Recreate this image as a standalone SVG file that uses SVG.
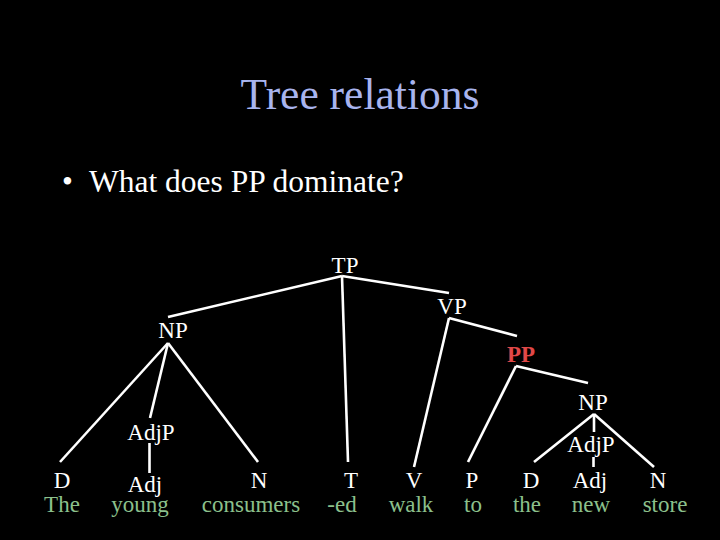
<svg xmlns="http://www.w3.org/2000/svg" width="720" height="540" viewBox="0 0 720 540">
<style>
text{font-family:"Liberation Serif","Times New Roman",serif;}
.lab{fill:#ffffff;font-size:23px;text-anchor:middle;}
.word{fill:#8cc08c;font-size:23px;text-anchor:middle;}
.pp{fill:#e04848;font-size:23px;font-weight:bold;text-anchor:middle;}
#edges line{stroke:#ffffff;stroke-width:2.6;stroke-linecap:butt;}
</style>
<rect width="720" height="540" fill="#000000"/>
<text x="360" y="109" font-size="43.5" fill="#a8b4ee" text-anchor="middle">Tree relations</text>
<text x="62" y="192" font-size="31" fill="#ffffff">•</text>
<text x="89" y="192" font-size="31.5" fill="#ffffff">What does PP dominate?</text>
<g id="edges">
<line x1="342" y1="276" x2="168" y2="317"/>
<line x1="342" y1="276" x2="449" y2="293"/>
<line x1="342" y1="276" x2="348" y2="462"/>
<line x1="168" y1="343" x2="60" y2="462"/>
<line x1="168" y1="343" x2="150" y2="418"/>
<line x1="168" y1="343" x2="258" y2="462"/>
<line x1="149.5" y1="443" x2="149.5" y2="473"/>
<line x1="449" y1="318" x2="517" y2="336"/>
<line x1="449" y1="318" x2="414" y2="467"/>
<line x1="516" y1="366" x2="588" y2="383"/>
<line x1="516" y1="366" x2="468" y2="462"/>
<line x1="594" y1="414" x2="534" y2="462"/>
<line x1="594" y1="414" x2="654" y2="467"/>
<line x1="594" y1="414" x2="594" y2="432"/>
<line x1="593.5" y1="457" x2="593.5" y2="467"/>
</g>
<g id="TP"><text class="lab" x="345" y="273">TP</text></g>
<g id="NP1"><text class="lab" x="173" y="338">NP</text></g>
<g id="VP"><text class="lab" x="452" y="314">VP</text></g>
<g id="PP"><text class="pp" x="521" y="362">PP</text></g>
<g id="NP2"><text class="lab" x="593" y="410">NP</text></g>
<g id="AdjP1"><text class="lab" x="151" y="440">AdjP</text></g>
<g id="AdjP2"><text class="lab" x="591" y="452">AdjP</text></g>
<g id="D1"><text class="lab" x="62" y="488">D</text><text class="word" x="62" y="512">The</text></g>
<g id="Adj1"><text class="lab" x="145" y="492">Adj</text><text class="word" x="140" y="512">young</text></g>
<g id="N1"><text class="lab" x="259" y="488">N</text><text class="word" x="251" y="512">consumers</text></g>
<g id="T"><text class="lab" x="351" y="488">T</text><text class="word" x="342" y="512">-ed</text></g>
<g id="V"><text class="lab" x="414" y="488">V</text><text class="word" x="411" y="512">walk</text></g>
<g id="P"><text class="lab" x="472" y="488">P</text><text class="word" x="473" y="512">to</text></g>
<g id="D2"><text class="lab" x="531" y="488">D</text><text class="word" x="527" y="512">the</text></g>
<g id="Adj2"><text class="lab" x="590" y="488">Adj</text><text class="word" x="591" y="512">new</text></g>
<g id="N2"><text class="lab" x="658" y="488">N</text><text class="word" x="665" y="512">store</text></g>
</svg>
